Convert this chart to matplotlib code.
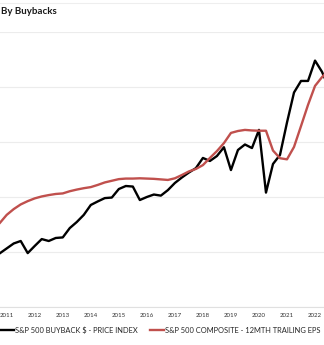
import numpy as np
import matplotlib
matplotlib.use("Agg")
import matplotlib.pyplot as plt
from matplotlib.lines import Line2D

plt.rcParams['font.family'] = ['Lato', 'DejaVu Sans']

# quarter-end positions (decimal years)
quarters = np.arange(2010.5, 2022.51, 0.25)

buyback_price = [17.8, 19.5, 21.3, 23.1, 24.0, 19.6, 22.2, 24.7, 24.0, 25.1,
                 25.3, 28.7, 30.9, 33.5, 37.1, 38.4, 39.6, 39.8, 42.9, 44.0,
                 43.8, 38.9, 40.0, 40.9, 40.5, 42.5, 45.1, 47.1, 48.9, 50.5,
                 54.2, 53.1, 54.9, 58.1, 49.8, 57.1, 59.1, 57.8, 64.4, 41.6,
                 52.0, 55.3, 67.1, 78.0, 82.2, 82.2, 89.6, 85.5, 79.6]

trailing_eps = [28.0, 30.5, 33.5, 35.6, 37.3, 38.5, 39.5, 40.2, 40.7, 41.1,
                41.3, 42.1, 42.7, 43.2, 43.6, 44.4, 45.3, 45.9, 46.5, 46.7,
                46.7, 46.8, 46.7, 46.6, 46.4, 46.2, 46.8, 48.0, 49.3, 50.2,
                51.6, 54.2, 56.7, 59.6, 63.3, 64.0, 64.4, 64.2, 64.1, 64.1,
                56.9, 54.1, 53.7, 58.2, 65.8, 73.5, 80.4, 83.6, 86.2]

years = list(range(2011, 2023))
year_labels = [str(y) for y in years]

fig = plt.figure(figsize=(3.24, 3.45), dpi=100)
ax = fig.add_axes([0, 1 - 307 / 345, 1, 275 / 345])

ax.plot(quarters, buyback_price, color='black', lw=1.7,
        label='S&P 500 BUYBACK $ - PRICE INDEX')
ax.plot(quarters, trailing_eps, color='#c0504d', lw=1.7,
        label='S&P 500 COMPOSITE - 12MTH TRAILING EPS')

x0 = 2011 - 6.7 / 28.03
ax.set_xlim(x0, x0 + 324 / 28.03)
ax.set_ylim(0, 100)
ax.set_yticks(np.arange(0, 101, 20))
ax.yaxis.grid(True, color='#ececec', lw=0.8)
ax.set_axisbelow(True)
ax.tick_params(axis='y', length=0, labelleft=False)
ax.set_xticks(years)
ax.set_xticklabels(year_labels, fontsize=4.4, color='#333333')
ax.tick_params(axis='x', length=0, pad=4)
for s in ['top', 'left', 'right']:
    ax.spines[s].set_visible(False)
ax.spines['bottom'].set_color('#e0e0e0')
ax.spines['bottom'].set_linewidth(0.8)

# title area
fig.text(1 / 324, 1 - 11 / 345, 'By Buybacks', fontsize=7, fontweight='bold',
         ha='left', va='center', color='#1a1a1a')
fig.add_artist(Line2D([0, 1], [1 - 3 / 345, 1 - 3 / 345], color='#eeeeee', lw=0.8))

fig.legend(loc='center left', bbox_to_anchor=(0, 1 - 330 / 345), ncol=2,
           frameon=False, fontsize=5.4, handlelength=1.8, handletextpad=0.15,
           columnspacing=1.7, borderpad=0, borderaxespad=0,
           labelcolor='#262626')

fig.savefig('out.png', dpi=100)
